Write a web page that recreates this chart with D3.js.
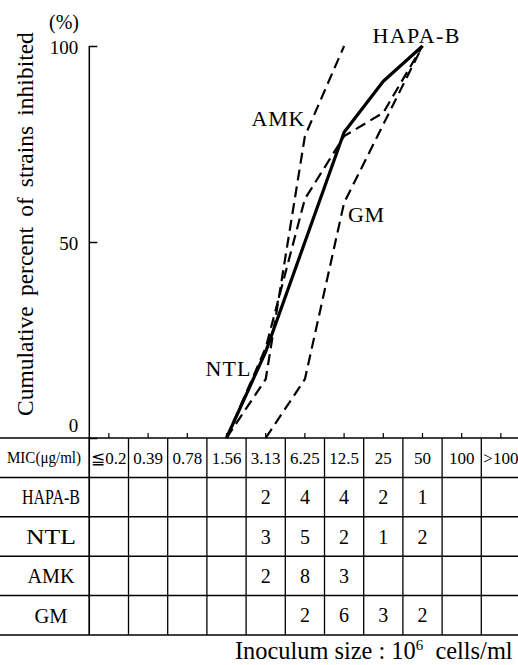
<!DOCTYPE html>
<html><head><meta charset="utf-8">
<script src="https://cdn.jsdelivr.net/npm/d3@7"></script>
<style>body{margin:0;background:#fff} svg{display:block}</style>
</head><body>
<script>
// ---- data ----
const micLabels = ["≦0.2","0.39","0.78","1.56","3.13","6.25","12.5","25","50","100",">100"];
const drugs = ["HAPA-B","NTL","AMK","GM"];
const yTicks = [0, 50, 100];

// strain counts per MIC column (table)
const countsHAPAB = [null,null,null,null,2,4,4,2,1,null,null];
const countsNTL   = [null,null,null,null,3,5,2,1,2,null,null];
const countsAMK   = [null,null,null,null,2,8,3,null,null,null,null];
const countsGM    = [null,null,null,null,null,2,6,3,2,null,null];

// cumulative percent curves
const hapabMic = ["1.56","3.13","6.25","12.5","25","50"];
const hapabPct = [0, 22, 50, 78, 91, 100];
const ntlMic   = ["1.56","3.13","6.25","12.5","25","50"];
const ntlPct   = [0, 23, 61, 77, 83, 100];
const amkMic   = ["1.56","3.13","6.25","12.5"];
const amkPct   = [0, 15, 77, 100];
const gmMic    = ["3.13","6.25","12.5","25","50"];
const gmPct    = [0, 15, 60, 80, 100];

// ---- build ----
const W = 518, H = 665;
const SERIF = '"Liberation Serif", "Times New Roman", serif';
const svg = d3.select("body").append("svg").attr("width", W).attr("height", H);

const x = d3.scaleBand().domain(micLabels).range([89.3, 520.5]);
const bw = x.bandwidth();
const y = d3.scaleLinear().domain([0, 100]).range([438, 46]);
const rowY = d3.scaleBand().domain(["MIC", ...drugs]).range([438, 635]);
const bh = rowY.bandwidth();

function T(g) { return g.append("text").style("font-family", SERIF); }
function fit(sel, target, glyphs) {
  sel.each(function() {
    const n = this.getComputedTextLength();
    d3.select(this).attr("textLength", target)
      .attr("lengthAdjust", (glyphs || n > target) ? "spacingAndGlyphs" : "spacing");
  });
}

// y axis
const yAxis = svg.append("g").attr("transform", "translate(89.3,0)")
  .call(d3.axisLeft(y).tickValues(yTicks).tickSize(-8).tickPadding(11).tickSizeOuter(0));
yAxis.select(".domain").remove();
yAxis.selectAll(".tick line").attr("stroke", "#000").attr("stroke-width", 1.5);
yAxis.selectAll(".tick text").style("font-family", SERIF).attr("font-size", 19).attr("fill", "#000")
  .attr("dy", d => d === 0 ? "-0.35em" : "0.4em");
svg.append("line").attr("x1", 89.3).attr("x2", 89.3).attr("y1", y(100)).attr("y2", 635)
  .attr("stroke", "#000").attr("stroke-width", 1.5);

// x ticks
const xAxis = svg.append("g").attr("transform", "translate(0,438)")
  .call(d3.axisTop(x).tickSize(5).tickFormat(""));
xAxis.select(".domain").remove();
xAxis.selectAll(".tick line").attr("stroke", "#000").attr("stroke-width", 1.2);

// y title
const yt = T(svg).attr("transform", "translate(33,224) rotate(-90)")
  .attr("text-anchor", "middle").attr("font-size", 23.5)
  .text("Cumulative percent of strains inhibited");
{
  const n = yt.node().getComputedTextLength();
  yt.attr("word-spacing", Math.max(0, (388 - n) / 5));
}
T(svg).attr("x", 64).attr("y", 22).attr("text-anchor", "middle")
  .attr("dy", "0.35em").attr("font-size", 20).text("(%)");

// table grid
const hLines = rowY.domain().map(r => rowY(r)).concat([rowY.range()[1]]);
svg.append("g").selectAll("line").data(hLines).join("line")
  .attr("x1", 0).attr("x2", W).attr("y1", d => d).attr("y2", d => d)
  .attr("stroke", "#000").attr("stroke-width", 1.5);
svg.append("g").selectAll("line").data(micLabels).join("line")
  .attr("x1", d => x(d)).attr("x2", d => x(d)).attr("y1", 438).attr("y2", 635)
  .attr("stroke", "#000").attr("stroke-width", 1.3);

// header
const hdr = svg.append("g").attr("font-size", 17);
T(hdr).attr("x", 44).attr("y", rowY("MIC") + bh / 2).attr("dy", "0.35em")
  .attr("text-anchor", "middle").attr("font-size", 16).text("MIC(μg/ml)").call(fit, 74);
hdr.selectAll("text.mic").data(micLabels).join("text").attr("class", "mic")
  .style("font-family", SERIF)
  .attr("x", d => x(d) + bw / 2).attr("y", rowY("MIC") + bh / 2).attr("dy", "0.35em")
  .attr("text-anchor", "middle").text(d => d);

// row labels
const labelW = {"HAPA-B": 58, "NTL": 50, "AMK": 47, "GM": 33};
svg.append("g").attr("font-size", 21).selectAll("text").data(drugs).join("text")
  .style("font-family", SERIF)
  .attr("x", 51).attr("y", d => rowY(d) + bh / 2).attr("dy", "0.35em")
  .attr("text-anchor", "middle").text(d => d)
  .each(function(d) { d3.select(this).call(fit, labelW[d], true); });

// cell values
const countRows = [["HAPA-B", countsHAPAB], ["NTL", countsNTL], ["AMK", countsAMK], ["GM", countsGM]];
const cells = [];
countRows.forEach(([d, arr]) => arr.forEach((v, i) => { if (v != null) cells.push({d, m: micLabels[i], v}); }));
svg.append("g").attr("font-size", 20).selectAll("text").data(cells).join("text")
  .style("font-family", SERIF)
  .attr("x", c => x(c.m) + bw / 2).attr("y", c => rowY(c.d) + bh / 2).attr("dy", "0.35em")
  .attr("text-anchor", "middle").text(c => c.v);

// curves
const line = d3.line().x(d => x(d[0]) + bw / 2).y(d => y(d[1]));
const curves = [
  {name: "GM", pts: d3.zip(gmMic, gmPct), solid: false},
  {name: "AMK", pts: d3.zip(amkMic, amkPct), solid: false},
  {name: "NTL", pts: d3.zip(ntlMic, ntlPct), solid: false},
  {name: "HAPA-B", pts: d3.zip(hapabMic, hapabPct), solid: true}
];
svg.append("g").selectAll("path").data(curves).join("path")
  .attr("d", c => line(c.pts)).attr("fill", "none").attr("stroke", "#000")
  .attr("stroke-width", c => c.solid ? 3.2 : 2.2)
  .attr("stroke-dasharray", c => c.solid ? null : "11,6")
  .attr("stroke-linejoin", "round");

// curve labels
const curveLabels = [
  {t: "HAPA-B", x: 416, y: 35, w: 87},
  {t: "AMK", x: 278, y: 118, w: 53},
  {t: "GM", x: 366, y: 214, w: 36},
  {t: "NTL", x: 228, y: 368, w: 45}
];
svg.append("g").attr("font-size", 22).selectAll("text").data(curveLabels).join("text")
  .style("font-family", SERIF)
  .attr("x", d => d.x).attr("y", d => d.y).attr("dy", "0.35em").attr("text-anchor", "middle")
  .text(d => d.t).each(function(d) { d3.select(this).call(fit, d.w); });

// inoculum note
const note = T(svg).attr("x", 235).attr("y", 659).attr("font-size", 24)
  .style("white-space", "pre");
note.append("tspan").text("Inoculum size : 10");
note.append("tspan").attr("font-size", 15).attr("dy", -9).text("6");
note.append("tspan").attr("dy", 9).text("  cells/ml");
{
  const n = note.node().getComputedTextLength();
  note.attr("font-size", 24 * 278 / n);
}
</script>
</body></html>
